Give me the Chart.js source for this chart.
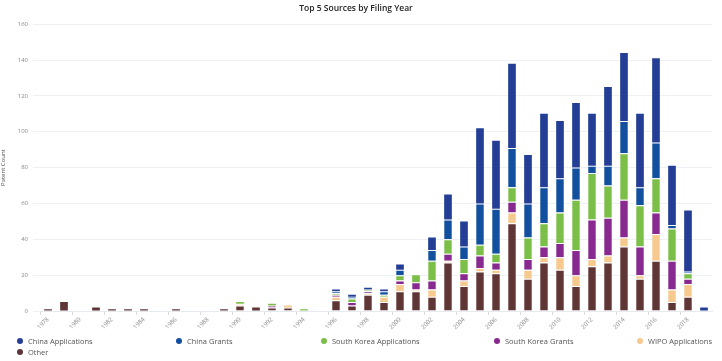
<!DOCTYPE html>
<html lang="en">
<head>
    <meta charset="utf-8">
    <title>Top 5 Sources by Filing Year</title>
    <script src="https://cdn.jsdelivr.net/npm/chart.js@4.4.1/dist/chart.umd.min.js"></script>
    <style>
        body { margin: 0; background: #fff; }
        #wrap { position: relative; width: 722px; height: 361px; }
        #legend { position: absolute; left: 0; top: 0; width: 722px; height: 361px; pointer-events: none;
                  font-family: "Open Sans", sans-serif; font-size: 7.5px; color: #555; }
        .lg-item { position: absolute; display: flex; align-items: center; white-space: nowrap; }
        .lg-dot { width: 6px; height: 6px; border-radius: 50%; margin-right: 5px; }
    </style>
</head>
<body>
    <div id="wrap">
        <canvas id="myChart" width="722" height="361"></canvas>
        <div id="legend"></div>
    </div>

    <script>
        // categories (filing years)
        var years = ['1978','1979','1980','1981','1982','1983','1984','1985','1986','1987',
                     '1988','1989','1990','1991','1992','1993','1994','1995','1996','1997',
                     '1998','1999','2000','2001','2002','2003','2004','2005','2006','2007',
                     '2008','2009','2010','2011','2012','2013','2014','2015','2016','2017',
                     '2018','2019'];

        // series (bottom of stack first)
        var other = [1,5,0,2,1,1,1,0,1,0, 0,1,3,2,2,2,0,0,6,3, 9,5,11,11,8,27,14,22,21,49, 18,27,23,14,25,27,36,18,28,5, 8,0];
        var wipoApplications = [0,0,0,0,0,0,0,0,0,0, 0,0,1,0,0,1,0,0,2,0, 1,3,4,1,4,1,3,2,2,6, 5,3,7,6,4,4,5,2,15,7, 7,0];
        var southKoreaGrants = [0,0,0,0,0,0,0,0,0,0, 0,0,0,0,1,0,0,0,1,2, 1,0,2,4,5,4,4,7,4,6, 6,6,8,14,22,21,21,16,12,16, 3,0];
        var southKoreaApplications = [0,0,0,0,0,0,0,0,0,0, 0,0,1,0,1,0,1,0,1,2, 1,1,3,4,11,8,8,6,5,8, 12,13,17,28,26,18,26,23,19,18, 3,0];
        var chinaGrants = [0,0,0,0,0,0,0,0,0,0, 0,0,0,0,0,0,0,0,1,1, 0,2,3,0,6,11,7,23,25,22, 19,20,19,18,4,11,18,10,20,2, 1,0];
        var chinaApplications = [0,0,0,0,0,0,0,0,0,0, 0,0,0,0,0,0,0,0,1,1, 1,1,3,0,7,14,14,42,38,47, 27,41,32,36,29,44,38,41,47,33, 34,2];

        var yTicks = [0, 20, 40, 60, 80, 100, 120, 140, 160];

        var series = [
            { label: 'Other', data: other, color: '#5f3536' },
            { label: 'WIPO Applications', data: wipoApplications, color: '#f6ca8e' },
            { label: 'South Korea Grants', data: southKoreaGrants, color: '#88298f' },
            { label: 'South Korea Applications', data: southKoreaApplications, color: '#7bbf48' },
            { label: 'China Grants', data: chinaGrants, color: '#124f9f' },
            { label: 'China Applications', data: chinaApplications, color: '#243e96' }
        ];

        // white line only between segments, not on top of the stack
        function segmentBorder(c) {
            var i = c.dataIndex;
            for (var d = c.datasetIndex + 1; d < series.length; d++) {
                if (series[d].data[i] > 0) return { top: 1, left: 0, right: 0, bottom: 0 };
            }
            return 0;
        }

        var datasets = series.map(function (s) {
            return {
                label: s.label,
                data: s.data.map(function (v) { return v === 0 ? null : v; }),
                backgroundColor: s.color,
                borderColor: 'rgba(255,255,255,0.6)',
                borderWidth: segmentBorder,
                borderSkipped: false,
                categoryPercentage: 0.8,
                barPercentage: 0.6
            };
        });

        var ctx = document.getElementById('myChart').getContext('2d');
        var myChart = new Chart(ctx, {
            type: 'bar',
            data: { labels: years, datasets: datasets },
            options: {
                responsive: false,
                animation: false,
                devicePixelRatio: 1,
                layout: { padding: { left: 0, right: 10, top: 0, bottom: 28 } },
                plugins: {
                    legend: { display: false },
                    tooltip: { enabled: false },
                    title: {
                        display: true,
                        text: 'Top 5 Sources by Filing Year',
                        color: '#222',
                        font: { family: 'Open Sans', size: 8.5, weight: '600' },
                        padding: { top: 3, bottom: 11 }
                    }
                },
                scales: {
                    x: {
                        stacked: true,
                        afterFit: function (scale) { scale.height = 22; },
                        border: { color: '#e6e9ed' },
                        grid: {
                            drawOnChartArea: false,
                            tickLength: 4,
                            color: function (c) { return c.index % 2 === 0 ? '#d8dce0' : 'rgba(0,0,0,0)'; }
                        },
                        ticks: {
                            autoSkip: false,
                            maxRotation: 45,
                            minRotation: 45,
                            padding: 1,
                            color: '#888',
                            font: { family: 'Open Sans', size: 6 },
                            callback: function (val, i) { return i % 2 === 0 ? years[i] : ''; }
                        }
                    },
                    y: {
                        stacked: true,
                        min: 0,
                        max: 160,
                        afterFit: function (scale) { scale.width = 40; },
                        afterBuildTicks: function (scale) {
                            scale.ticks = yTicks.map(function (v) { return { value: v }; });
                        },
                        border: { display: false },
                        grid: { color: '#eef1f4', tickLength: 7 },
                        ticks: {
                            padding: 5,
                            color: '#888',
                            font: { family: 'Open Sans', size: 6 }
                        },
                        title: {
                            display: true,
                            text: 'Patent Count',
                            color: '#555',
                            padding: 0,
                            font: { family: 'Open Sans', size: 6 }
                        }
                    }
                }
            }
        });

        // html legend, fixed columns like the original
        var legendPos = [[17, 336], [176, 336], [321, 336], [494, 336], [637, 336], [17, 347]];
        var legendOrder = series.slice().reverse();
        var html = '';
        legendOrder.forEach(function (s, i) {
            html += '<div class="lg-item" style="left:' + legendPos[i][0] + 'px;top:' + legendPos[i][1] + 'px">' +
                    '<span class="lg-dot" style="background:' + s.color + '"></span>' + s.label + '</div>';
        });
        document.getElementById('legend').innerHTML = html;
    </script>
</body>
</html>
